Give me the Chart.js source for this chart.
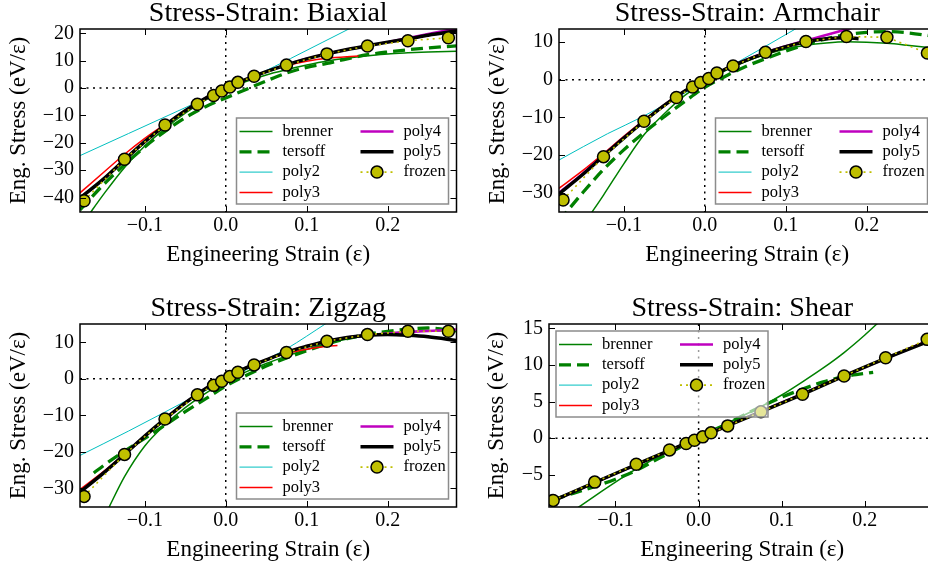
<!DOCTYPE html>
<html>
<head>
<meta charset="utf-8">
<script src="https://cdn.jsdelivr.net/npm/chart.js@4.4.1/dist/chart.umd.min.js"></script>
<style>
  html, body { margin: 0; padding: 0; background: #fff; }
  #fig { position: relative; width: 928px; height: 569px; overflow: hidden; }
  #fig canvas { position: absolute; }
</style>
</head>
<body>
<div id="fig">
  <canvas id="biaxial" width="464" height="284" style="left:0;top:0"></canvas>
  <canvas id="armchair" width="479" height="284" style="left:464px;top:0"></canvas>
  <canvas id="zigzag" width="464" height="284" style="left:0;top:295px"></canvas>
  <canvas id="shear" width="479" height="284" style="left:464px;top:295px"></canvas>
</div>
<script>
// strain values of the frozen-relaxation runs (same for every panel)
const strainPts = [-0.175, -0.125, -0.075, -0.035, -0.015, -0.005, 0.005, 0.015, 0.035, 0.075, 0.125, 0.175, 0.225, 0.275];

// tick labels
const xTicks = [-0.1, 0, 0.1, 0.2];
const biaxYTicks = [-40, -30, -20, -10, 0, 10, 20];
const armYTicks = [-30, -20, -10, 0, 10];
const zigYTicks = [-30, -20, -10, 0, 10];
const shearYTicks = [-5, 0, 5, 10, 15];

// ---- Biaxial ----
const biaxFrozen = [-41.2, -26.0, -13.5, -5.9, -2.7, -1.1, 0.4, 2.1, 4.3, 8.4, 12.5, 15.4, 17.3, 18.4];
const biaxBrenner = [[-0.172,-47.5],[-0.15,-38.5],[-0.125,-29],[-0.1,-21.2],[-0.075,-14.8],[-0.05,-9.2],[-0.025,-4.4],[0,-0.6],[0.025,2.4],[0.05,4.8],[0.075,6.7],[0.1,8.4],[0.125,9.9],[0.15,11],[0.175,11.8],[0.2,12.5],[0.225,12.9],[0.25,13.2],[0.285,13.5]];
const biaxTersoff = [[-0.18,-44.5],[-0.15,-35],[-0.125,-28],[-0.1,-21.5],[-0.075,-15.8],[-0.05,-10.8],[-0.025,-6.8],[0,-3.6],[0.025,-0.5],[0.05,2.6],[0.075,5.5],[0.1,7.6],[0.125,9],[0.15,10.7],[0.175,12.2],[0.2,13.2],[0.225,14],[0.25,14.7],[0.285,15.4]];
const biaxPoly2 = [[-0.18,-24.7],[-0.12,-16.6],[-0.06,-8.5],[0,-0.4],[0.04,5],[0.08,10.8],[0.12,16.8],[0.16,22.8]];
const biaxPoly3 = [[-0.18,-38.3],[-0.15,-30.6],[-0.125,-24.2],[-0.1,-18.4],[-0.075,-13.3],[-0.05,-8.6],[-0.025,-4.1],[0,-0.1],[0.025,3.2],[0.05,6],[0.075,8.2],[0.1,9.8],[0.125,10.9],[0.15,11.5],[0.164,11.7]];
const biaxPoly4 = [[-0.18,-40.2],[-0.15,-33],[-0.125,-26.2],[-0.1,-19.6],[-0.075,-13.6],[-0.05,-8.3],[-0.025,-3.7],[0,0],[0.025,3.2],[0.05,6],[0.075,8.5],[0.1,10.7],[0.125,12.5],[0.15,14.1],[0.175,15.5],[0.2,16.8],[0.225,18.3],[0.25,19.8],[0.285,21.8]];
const biaxPoly5 = [[-0.18,-40.2],[-0.15,-33],[-0.125,-26.2],[-0.1,-19.6],[-0.075,-13.6],[-0.05,-8.3],[-0.025,-3.7],[0,0],[0.025,3.2],[0.05,6],[0.075,8.5],[0.1,10.7],[0.125,12.5],[0.15,14.1],[0.175,15.5],[0.2,16.8],[0.225,18],[0.25,19.3],[0.285,20.9]];

// ---- Armchair ----
const armFrozen = [-31.9, -20.4, -11.0, -4.7, -1.9, -0.7, 0.35, 1.8, 3.7, 7.3, 10.2, 11.5, 11.3, 7.1];
const armBrenner = [[-0.142,-36],[-0.125,-30.6],[-0.1,-22.3],[-0.075,-14.6],[-0.05,-9],[-0.025,-4.2],[0,-0.6],[0.025,2.4],[0.05,4.8],[0.075,6.7],[0.1,8.2],[0.125,9.2],[0.15,9.8],[0.175,10.1],[0.2,10],[0.225,9.7],[0.25,9.2],[0.285,8.4]];
const armTersoff = [[-0.18,-37.5],[-0.15,-29.8],[-0.125,-23.8],[-0.1,-18.6],[-0.075,-14],[-0.05,-9.8],[-0.025,-5.8],[0,-2],[0.025,0.9],[0.05,3.5],[0.075,5.6],[0.1,7.6],[0.125,9.4],[0.15,10.9],[0.175,12],[0.2,12.6],[0.225,12.8],[0.25,12.5],[0.285,11.5]];
const armPoly2 = [[-0.18,-21.3],[-0.12,-14.3],[-0.075,-9.6],[-0.035,-4.8],[0,-0.4],[0.035,4],[0.075,8.9],[0.12,14.5]];
const armPoly3 = [[-0.18,-28.8],[-0.15,-24],[-0.125,-19.6],[-0.1,-15],[-0.075,-10.7],[-0.05,-6.6],[-0.025,-2.9],[0,0.2],[0.025,2.9],[0.05,5.2],[0.075,7],[0.09,7.9]];
const armPoly4 = [[-0.18,-30],[-0.15,-24.8],[-0.125,-20],[-0.1,-15.4],[-0.075,-10.9],[-0.05,-6.8],[-0.025,-3],[0,0],[0.025,2.8],[0.05,5.2],[0.075,7.3],[0.1,8.9],[0.125,10.5],[0.15,11.9],[0.175,13.4],[0.19,14.3]];
const armPoly5 = [[-0.18,-30.3],[-0.15,-25],[-0.125,-20.2],[-0.1,-15.5],[-0.075,-11],[-0.05,-6.8],[-0.025,-3],[0,0],[0.025,2.8],[0.05,5.1],[0.075,7.1],[0.1,8.8],[0.125,10.1],[0.15,10.9],[0.175,11.2],[0.19,10.9]];

// ---- Zigzag ----
const zigFrozen = [-32.2, -20.7, -11.0, -4.4, -1.8, -0.7, 0.6, 1.8, 3.8, 7.2, 10.3, 12.1, 13.0, 13.0];
const zigBrenner = [[-0.146,-36],[-0.125,-26.8],[-0.1,-18.4],[-0.075,-12.6],[-0.05,-7.9],[-0.025,-4],[0,-0.8],[0.025,1.9],[0.05,4.2],[0.075,6.2],[0.1,8],[0.125,9.6],[0.15,10.9],[0.175,11.8],[0.2,12.5],[0.225,12.9],[0.25,13.1],[0.285,13.2]];
const zigTersoff = [[-0.163,-25.8],[-0.15,-23.6],[-0.125,-19.8],[-0.1,-16.3],[-0.075,-12.7],[-0.05,-9],[-0.025,-5.5],[0,-2],[0.025,0.9],[0.05,3.5],[0.075,5.7],[0.1,7.7],[0.125,9.5],[0.15,11],[0.175,12.2],[0.2,13],[0.225,13.6],[0.25,13.9],[0.285,13.1]];
const zigPoly2 = [[-0.181,-21.1],[-0.12,-14.3],[-0.075,-9.1],[-0.035,-4.4],[0,-0.4],[0.035,3.6],[0.075,8.2],[0.125,15.3]];
const zigPoly3 = [[-0.18,-30.3],[-0.15,-25.2],[-0.125,-20.5],[-0.1,-15.8],[-0.075,-11.2],[-0.05,-6.8],[-0.025,-2.8],[0,0.4],[0.025,3],[0.05,5.1],[0.075,6.9],[0.1,8.1],[0.125,8.9],[0.138,9.1]];
const zigPoly4 = [[-0.18,-31],[-0.15,-25.6],[-0.125,-20.7],[-0.1,-15.7],[-0.075,-11],[-0.05,-6.6],[-0.025,-2.7],[0,0.4],[0.025,3],[0.05,5.2],[0.075,7.3],[0.1,8.9],[0.125,10.3],[0.15,11.3],[0.175,11.9],[0.2,12.4],[0.225,12.8],[0.25,13.1],[0.285,13.5]];
const zigPoly5 = [[-0.18,-31],[-0.15,-25.6],[-0.125,-20.7],[-0.1,-15.7],[-0.075,-11],[-0.05,-6.6],[-0.025,-2.7],[0,0.4],[0.025,3],[0.05,5.2],[0.075,7.3],[0.1,8.9],[0.125,10.3],[0.15,11.3],[0.175,11.9],[0.2,12.1],[0.225,11.9],[0.25,11.5],[0.285,10.5]];

// ---- Shear ----
const shearFrozen = [-8.5, -6.0, -3.56, -1.6, -0.73, -0.27, 0.18, 0.73, 1.68, 3.6, 6.0, 8.5, 11.0, 13.5];
const shearBrenner = [[-0.148,-9.7],[-0.125,-7.9],[-0.1,-6],[-0.075,-4.2],[-0.05,-2.6],[-0.025,-1.1],[0,0.3],[0.025,1.6],[0.05,2.9],[0.075,4.3],[0.1,5.9],[0.125,7.7],[0.15,9.6],[0.175,11.7],[0.2,14.1],[0.22,16.2]];
const shearTersoff = [[-0.175,-8.4],[-0.15,-7.5],[-0.125,-6.6],[-0.1,-5.6],[-0.075,-4.4],[-0.05,-2.9],[-0.025,-1.4],[0,0],[0.025,1.4],[0.05,2.9],[0.075,4.3],[0.1,5.6],[0.125,6.7],[0.15,7.7],[0.175,8.4],[0.21,9]];
const shearPoly2 = [[-0.18,-8.9],[-0.1,-4.9],[0,0],[0.1,4.85],[0.2,9.7],[0.285,13.7]];
const shearPoly3 = [[-0.18,-8.8],[-0.1,-4.85],[0,0],[0.1,4.85],[0.2,9.75],[0.285,13.8]];
const shearPoly4 = [[-0.18,-8.8],[-0.1,-4.85],[0,0],[0.1,4.85],[0.2,9.7],[0.285,13.7]];
const shearPoly5 = [[-0.18,-8.8],[-0.125,-6.05],[-0.075,-3.6],[-0.035,-1.65],[0,0],[0.035,1.7],[0.075,3.6],[0.125,6],[0.175,8.5],[0.225,10.9],[0.285,13.6]];

const SERIF = '"Liberation Serif", "Times New Roman", serif';

function pts(arr) {
  return arr.map(p => ({ x: p[0], y: p[1] }));
}

function minus(s) {
  return String(s).replace('-', '\u2212');
}

function buildDatasets(curves, frozen) {
  const ds = [
    { label: 'brenner', data: pts(curves[0]), borderColor: '#008000', borderWidth: 1.5, order: 6 },
    { label: 'tersoff', data: pts(curves[1]), borderColor: '#008000', borderWidth: 3.3, borderDash: [12, 6], order: 5 },
    { label: 'poly2', data: pts(curves[2]), borderColor: '#00bfbf', borderWidth: 1, order: 4 },
    { label: 'poly3', data: pts(curves[3]), borderColor: '#ff0000', borderWidth: 1.5, order: 3 },
    { label: 'poly4', data: pts(curves[4]), borderColor: '#bf00bf', borderWidth: 2.5, order: 2 },
    { label: 'poly5', data: pts(curves[5]), borderColor: '#000000', borderWidth: 3.5, order: 1 }
  ];
  ds.forEach(d => {
    d.pointRadius = 0;
    d.cubicInterpolationMode = 'monotone';
    d.fill = false;
  });
  ds.push({
    label: 'frozen',
    data: strainPts.map((x, i) => ({ x: x, y: frozen[i] })),
    borderColor: '#bfbf00',
    borderWidth: 1.6,
    borderDash: [2, 4],
    tension: 0,
    pointRadius: 6,
    pointBackgroundColor: '#bfbf00',
    pointBorderColor: '#000000',
    pointBorderWidth: 1.5,
    fill: false,
    order: 0
  });
  return ds;
}

// frame with inward ticks, dotted zero lines and the in-axes legend
const framePlugin = {
  id: 'frame',
  beforeDatasetsDraw(chart) {
    const { ctx, chartArea: a } = chart;
    const x0 = chart.scales.x.getPixelForValue(0);
    const y0 = chart.scales.y.getPixelForValue(0);
    ctx.save();
    ctx.beginPath();
    ctx.rect(a.left, a.top, a.width, a.height);
    ctx.clip();
    ctx.strokeStyle = '#000';
    ctx.lineWidth = 1.5;
    ctx.setLineDash([2, 4.5]);
    ctx.beginPath();
    ctx.moveTo(x0, a.top);
    ctx.lineTo(x0, a.bottom);
    ctx.moveTo(a.left, y0);
    ctx.lineTo(a.right, y0);
    ctx.stroke();
    ctx.restore();
  },
  afterDatasetsDraw(chart, args, opts) {
    const { ctx, chartArea: a } = chart;
    const xs = chart.scales.x, ys = chart.scales.y;
    ctx.save();
    ctx.strokeStyle = '#000';
    ctx.lineWidth = 1.5;
    ctx.strokeRect(a.left, a.top, a.width, a.height);
    ctx.lineWidth = 1;
    ctx.beginPath();
    xs.ticks.forEach(t => {
      const px = Math.round(xs.getPixelForValue(t.value)) + 0.5;
      ctx.moveTo(px, a.bottom); ctx.lineTo(px, a.bottom - 6);
      ctx.moveTo(px, a.top); ctx.lineTo(px, a.top + 6);
    });
    ys.ticks.forEach(t => {
      const py = Math.round(ys.getPixelForValue(t.value)) + 0.5;
      ctx.moveTo(a.left, py); ctx.lineTo(a.left + 6, py);
      ctx.moveTo(a.right, py); ctx.lineTo(a.right - 6, py);
    });
    ctx.stroke();

    // legend box
    const w = 212, h = 86;
    let bx, by;
    if (opts.pos === 'ul') {
      bx = a.left + 7; by = a.top + 7;
    } else {
      bx = a.right - 8 - w; by = a.bottom - 8 - h;
    }
    ctx.fillStyle = 'rgba(255,255,255,0.6)';
    ctx.fillRect(bx, by, w, h);
    ctx.strokeStyle = '#8c8c8c';
    ctx.lineWidth = 1.5;
    ctx.strokeRect(bx, by, w, h);

    const sets = chart.data.datasets;
    ctx.font = '16.5px ' + SERIF;
    ctx.textBaseline = 'middle';
    ctx.textAlign = 'left';
    sets.forEach((d, i) => {
      const col = i < 4 ? 0 : 1;
      const row = i < 4 ? i : i - 4;
      const hx = bx + (col ? 124 : 3);
      const hy = by + 13.5 + row * 20.3;
      ctx.save();
      ctx.strokeStyle = d.borderColor;
      ctx.lineWidth = d.borderWidth;
      ctx.setLineDash(d.borderDash || []);
      ctx.beginPath();
      ctx.moveTo(hx, hy);
      ctx.lineTo(hx + 33, hy);
      ctx.stroke();
      if (d.pointRadius) {
        ctx.setLineDash([]);
        ctx.beginPath();
        ctx.arc(hx + 16.5, hy, d.pointRadius, 0, Math.PI * 2);
        ctx.fillStyle = d.pointBackgroundColor;
        ctx.fill();
        ctx.lineWidth = d.pointBorderWidth;
        ctx.strokeStyle = d.pointBorderColor;
        ctx.stroke();
      }
      ctx.restore();
      ctx.fillStyle = '#000';
      ctx.fillText(d.label, hx + 43, hy);
    });
    ctx.restore();
  }
};

function makeChart(id, title, curves, frozen, yMin, yMax, yTicks, yWidth, yTitlePad, legendPos) {
  const ctx = document.getElementById(id).getContext('2d');
  return new Chart(ctx, {
    type: 'line',
    data: { datasets: buildDatasets(curves, frozen) },
    options: {
      responsive: false,
      animation: false,
      devicePixelRatio: 1,
      events: [],
      layout: { padding: { left: 0, right: 7, top: 0, bottom: 0 } },
      plugins: {
        legend: { display: false },
        tooltip: { enabled: false },
        title: {
          display: true,
          text: title,
          fullSize: false,
          color: '#000',
          font: { family: SERIF, size: 28, weight: 'normal', lineHeight: '28px' },
          padding: { top: 0, bottom: 1 }
        },
        frame: { pos: legendPos }
      },
      scales: {
        x: {
          type: 'linear',
          min: -0.18,
          max: 0.285,
          grid: { display: false, drawTicks: false },
          border: { display: false },
          afterBuildTicks: s => { s.ticks = xTicks.map(v => ({ value: v })); },
          afterFit: s => { s.height = 72; },
          ticks: {
            color: '#000',
            padding: 2,
            autoSkip: false,
            maxRotation: 0,
            font: { family: SERIF, size: 20 },
            callback: v => minus(Number(v).toFixed(1))
          },
          title: {
            display: true,
            text: 'Engineering Strain (ε)',
            color: '#000',
            font: { family: SERIF, size: 23, lineHeight: '24px' },
            padding: { top: 0, bottom: 17 }
          }
        },
        y: {
          type: 'linear',
          min: yMin,
          max: yMax,
          grid: { display: false, drawTicks: false },
          border: { display: false },
          afterBuildTicks: s => { s.ticks = yTicks.map(v => ({ value: v })); },
          afterFit: s => { s.width = yWidth; },
          ticks: {
            color: '#000',
            padding: 6,
            autoSkip: false,
            font: { family: SERIF, size: 20 },
            callback: v => minus(v)
          },
          title: {
            display: true,
            text: 'Eng. Stress (eV/ε)',
            color: '#000',
            font: { family: SERIF, size: 23, lineHeight: '24px' },
            padding: { top: yTitlePad, bottom: 0 }
          }
        }
      }
    },
    plugins: [framePlugin]
  });
}

makeChart('biaxial', 'Stress-Strain: Biaxial',
  [biaxBrenner, biaxTersoff, biaxPoly2, biaxPoly3, biaxPoly4, biaxPoly5], biaxFrozen,
  -45.3, 21.6, biaxYTicks, 80, 7, 'lr');
makeChart('armchair', 'Stress-Strain: Armchair',
  [armBrenner, armTersoff, armPoly2, armPoly3, armPoly4, armPoly5], armFrozen,
  -35.1, 13.5, armYTicks, 95, 22, 'lr');
makeChart('zigzag', 'Stress-Strain: Zigzag',
  [zigBrenner, zigTersoff, zigPoly2, zigPoly3, zigPoly4, zigPoly5], zigFrozen,
  -35.1, 15.0, zigYTicks, 80, 7, 'lr');
makeChart('shear', 'Stress-Strain: Shear',
  [shearBrenner, shearTersoff, shearPoly2, shearPoly3, shearPoly4, shearPoly5], shearFrozen,
  -9.4, 15.6, shearYTicks, 85, 21, 'ul');
</script>
</body>
</html>
